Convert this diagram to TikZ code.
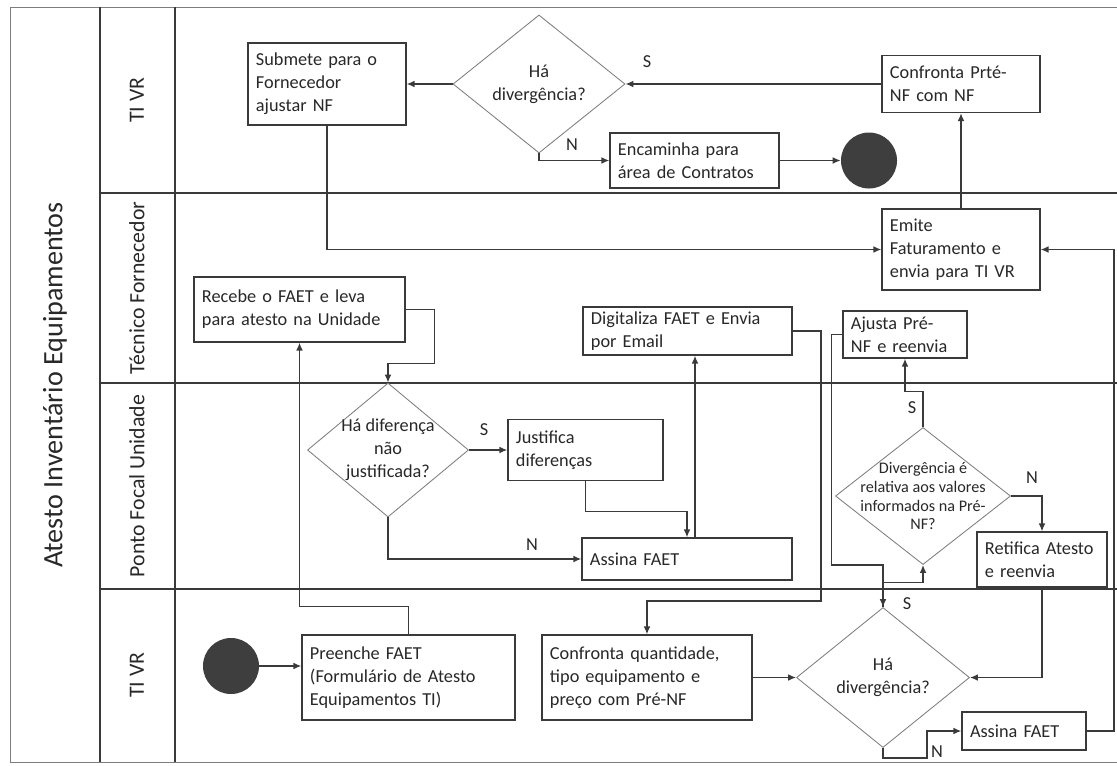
\documentclass[tikz,border=0pt]{standalone}
\usepackage{fontspec}
\setmainfont{Carlito}
\usetikzlibrary{positioning,shapes.geometric,arrows.meta}
\definecolor{atline}{RGB}{58,58,58}
\definecolor{atgray}{RGB}{125,125,125}
\definecolor{attext}{RGB}{40,40,40}
\definecolor{atdot}{RGB}{62,62,62}

\begin{document}
\begin{tikzpicture}[x=0.025cm, y=-0.025cm,
  stepbox/.style={draw=atline, fill=white, line width=0.9pt, align=left, inner xsep=0.2cm, inner ysep=1pt, text=attext, font=\fontsize{13}{16.5}\selectfont},
  decision/.style={draw=atgray, fill=white, line width=0.6pt, diamond, inner sep=0pt},
  dtext/.style={align=center, text=attext, font=\fontsize{13}{16.5}\selectfont},
  terminal/.style={circle, fill=atdot, minimum size=1.4cm, inner sep=0pt},
  flow/.style={-{Latex[length=2mm,width=1.7mm]}, atline, line width=1pt},
  lane/.style={atline, line width=1.1pt},
  lanename/.style={rotate=90, text=attext, font=\fontsize{15.5}{18}\selectfont},
  yesno/.style={text=attext, font=\fontsize{13}{16}\selectfont},
]
\useasboundingbox (0,0) rectangle (1117,765);
\draw[atgray, line width=0.6pt] (10,7) -- (1117,7);
\draw[atgray, line width=0.6pt] (10,762) -- (1117,762);
\draw[atgray, line width=0.6pt] (10,7) -- (10,762);
\draw[lane] (100,7) -- (100,762);
\draw[lane] (175,7) -- (175,762);
\foreach \ly in {193,383,589}
  \draw[lane] (100,\ly) -- (1117,\ly);

\node[rotate=90, text=attext, font=\fontsize{20}{24}\selectfont] (title) at (55,385) {Atesto Inventário Equipamentos};
\node[lanename] (ln1) at (137,100) {TI VR};
\node[lanename] (ln2) at (137,288) {Técnico Fornecedor};
\node[lanename] (ln3) at (137,486) {Ponto Focal Unidade};
\node[lanename] (ln4) at (137,675) {TI VR};

\node[stepbox, text width=3.55cm, minimum height=2.05cm] (submete) at (327,84) {Submete para o\\Fornecedor\\ajustar NF};
\node[decision, minimum width=4.3cm, minimum height=3.45cm, label={[dtext]center:{Há\\divergência?}}] (div1) at (539,84) {};
\node[stepbox, text width=3.55cm, minimum height=1.425cm] (confpre) at (961,84) {Confronta Prté-\\NF com NF};
\node[stepbox, text width=3.825cm, minimum height=1.375cm] (encam) at (694.5,160.5) {Encaminha para\\área de Contratos};
\node[terminal] (fim) at (869,160.5) {};
\node[stepbox, text width=3.55cm, minimum height=2.025cm] (emite) at (961,249.5) {Emite\\Faturamento e\\envia para TI VR};
\node[stepbox, text width=4.875cm, minimum height=1.625cm] (recebe) at (299.5,309.5) {Recebe o FAET e leva\\para atesto na Unidade};
\node[stepbox, text width=4.825cm, minimum height=1.2cm] (digit) at (687.5,331) {Digitaliza FAET e Envia\\por Email};
\node[stepbox, text width=2.7cm, minimum height=1.175cm] (ajusta) at (905,334.5) {Ajusta Pré-\\NF e reenvia};
\node[decision, minimum width=4.025cm, minimum height=3.35cm, label={[dtext]center:{Há diferença\\não\\justificada?}}] (dif) at (388,450) {};
\node[stepbox, text width=3.475cm, minimum height=1.525cm] (justif) at (585.5,450) {Justifica\\diferenças};
\node[stepbox, text width=4.85cm, minimum height=1.05cm] (assina1) at (687,559) {Assina FAET};
\node[decision, minimum width=4.375cm, minimum height=3.425cm, label={[dtext, font=\fontsize{11.5}{13.5}\selectfont]center:{Divergência é\\relativa aos valores\\informados na Pré-\\NF?}}] (divrel) at (923,496) {};
\node[stepbox, text width=2.85cm, minimum height=1.375cm] (retif) at (1042,559.5) {Retifica Atesto\\e reenvia};
\node[terminal] (inicio) at (231,666) {};
\node[stepbox, text width=4.925cm, minimum height=2.125cm] (preenche) at (408.5,677.5) {Preenche FAET\\(Formulário de Atesto\\Equipamentos TI)};
\node[stepbox, text width=4.85cm, minimum height=2.125cm] (confqt) at (647,677.5) {Confronta quantidade,\\tipo equipamento e\\preço com Pré-NF};
\node[decision, minimum width=4.325cm, minimum height=3.5cm, label={[dtext]center:{Há\\divergência?}}] (div2) at (883,677.5) {};
\node[stepbox, text width=2.7cm, minimum height=0.95cm] (assina2) at (1024,731) {Assina FAET};

\node[yesno] (s1) at (647,62) {S};
\node[yesno] (n1) at (572,145) {N};
\node[yesno] (s2) at (484,430) {S};
\node[yesno] (n2) at (532,545) {N};
\node[yesno] (n3) at (1032,478) {N};
\node[yesno] (s3) at (912,408) {S};
\node[yesno] (s4) at (907,604) {S};
\node[yesno] (n4) at (937,752) {N};

\coordinate (redge) at (1114,0);
\coordinate (up1) at ([xshift=0.2cm]assina1.north);

\draw[flow] (confpre.west) -- (div1.east);
\draw[flow] (div1.west) -- (submete.east);
\draw[flow] (div1.south) |- (encam.west);
\draw[flow] (encam.east) -- (fim.west);
\draw[flow] (submete.south) |- (emite.west);
\draw[flow] (emite.north) -- (confpre.south);
\draw[flow] (assina2.east) -| (redge |- emite.east) -- (emite.east);
\draw[flow] (recebe.east) -- ++(29,0) -- ++(0,54) -| (dif.north);
\draw[flow] (preenche.north) -- ++(0,-28) -| (recebe.south);
\draw[flow] (dif.east) -- (justif.west);
\draw[flow] (justif.south) -- ++(0,30.5) -| (assina1.north);
\draw[flow] (up1) -- (up1 |- digit.south);
\draw[flow] (dif.south) |- (assina1.west);
\draw[flow] (digit.east) -- ++(28.5,0) -- ++(0,270) -| (confqt.north);
\draw[flow] (inicio.east) -- (inicio.east -| preenche.west);
\draw[flow] (confqt.east) -- (div2.west);
\draw[flow] (retif.south) |- (div2.east);
\draw[flow] (divrel.east) -| (retif.north);
\draw[flow] (ajusta.west) -- ++(-11,0) -- ++(0,230.5) -| (div2.north);
\draw[flow] (div2.north) -- ++(0,-24.5) -| (divrel.south);
\draw[flow] (divrel.north) -- ++(0,-35.5) -| (ajusta.south);
\draw[flow] (div2.south) -- ++(0,10) -- ++(44,0) |- (assina2.west);
\end{tikzpicture}
\end{document}
